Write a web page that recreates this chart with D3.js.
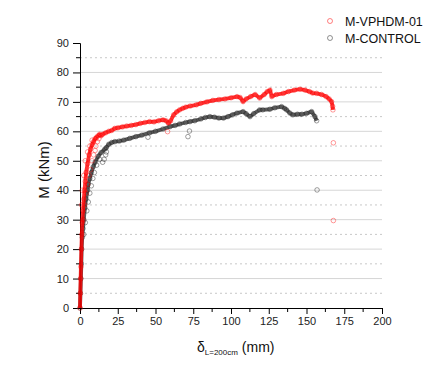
<!DOCTYPE html>
<html>
<head>
<meta charset="utf-8">
<script src="https://cdn.jsdelivr.net/npm/d3@7"></script>
<style>
  body { margin: 0; background: #fff; }
  text { font-family: Arial, "Liberation Sans", sans-serif; }
</style>
</head>
<body>
<div class="chart"></div>
<script>
// M-VPHDM-01 (red), main envelope
const redX = [0,0.2,0.4,0.6,0.9,1.2,1.5,2,2.5,3,3.5,4,5,6,7,8,9,10,11,12,13,14,15,17,19,21,23,25,28,31,34,37,40,43,46,49,52,55,57,58.5,60,62,64,66,68,70,73,77,80,84,88,92,96,100,104,106,108,110,113,116,119,122,124,125.8,127,130,134.7,138,142,145.7,149,152,154,156.7,160,163,165,166.6,167.3,167.5];
const redY = [0,5,10,14,20,25,29,33,37,40,43,46,49,52,54,55.5,56.5,57.5,58,58.5,59,58.5,59,59.5,60,60.3,61,61.2,61.5,61.8,62,62.3,62.7,63,63.3,63.2,63.6,63.9,63.6,62.8,63.5,65.6,66.6,67.3,67.8,68.2,68.6,69,69.5,70,70.5,70.8,71,71.4,71.8,71.5,70.1,71,71.8,72.5,71.3,72.5,73.5,74,71.8,72.5,72.9,73.5,74,74.3,74,73.5,73,72.9,72.5,71.8,71,70.1,68.5,67.3];
// scattered red markers (reloading cycles and last readings)
const redExtraX = [1,1.5,2.5,3.5,5,6.5,8,2,3,4,5,6,7,8,9,10,10.5,11.5,12.5,58,167.8,167.8];
const redExtraY = [35,40,45,50,53,55,57,30,35,39,42,45,47,50,52,53.5,55,56.5,57.5,59.9,56.1,29.7];

// M-CONTROL (black)
const blackX = [0,0.3,0.6,0.9,1.1,1.5,2,2.5,3.3,4,5,5.5,6.5,7.5,8.8,10,12,14,16.5,17.5,19,21,23,26,29,33,37,41,46,50,55,59.6,63,66,70,72.8,76,80,83,86,89,92,95,98,101,104,108,110,112.6,115,119,121,125.8,129,133.5,135.5,136.8,139,141,144,147,150,153.4,155.6,156.7];
const blackY = [0,5,10,15,20,24,27,30,34,37,40,42,44,46,48,49.5,51.5,52.8,54,54.5,55.6,56.2,56.5,56.7,57,57.6,58.2,58.7,59.5,60,60.8,61.6,62,62.5,63,63.3,63.6,64.2,64.7,65,64.8,64.5,64.5,65,65.6,66.2,66.7,66,65,66,67.3,67.3,67.5,68,68.4,67.8,67.3,66.2,65.6,65.8,65.8,66.1,66.7,65,63.6];
const blackExtraX = [2.5,3.5,4.5,5.5,6.5,7.5,8.5,9.5,11,13,15,16,17,17.5,45,71.5,72.5,157];
const blackExtraY = [25,29,33,36,39,41.5,44,46,48.5,50.5,49.5,50.5,52,53,58,58.2,60.1,40.1];

const seriesNames = ['M-VPHDM-01', 'M-CONTROL'];
const seriesColors = ['#ff0000', '#222222'];

const xTicks = [0,25,50,75,100,125,150,175,200];
const yTicks = [0,10,20,30,40,50,60,70,80,90];

const W = 444, H = 370;
const margin = {top:43, left:80, right:62, bottom:62};
const width = W - margin.left - margin.right;
const height = H - margin.top - margin.bottom;

const svg = d3.select('.chart')
    .append('svg')
    .attr('width', W)
    .attr('height', H)
const g = svg.append('g')
    .attr('transform', 'translate('+margin.left+','+margin.top+')');

const xScale = d3.scaleLinear().domain([0,200]).range([0,width]);
const yScale = d3.scaleLinear().domain([0,90]).range([height,0]);

// grid: solid at tens, dashed at fives
const gridVals = d3.range(5, 90, 5);
g.selectAll('.grid')
    .data(gridVals)
    .enter()
    .append('line')
    .attr('x1', 0)
    .attr('x2', width)
    .attr('y1', d=>yScale(d))
    .attr('y2', d=>yScale(d))
    .attr('stroke', d=> d%10===0 ? '#d6d6d6' : '#c8c8c8')
    .attr('stroke-width', 1)
    .attr('stroke-dasharray', d=> d%10===0 ? null : '2,3');

// axes
const xAxis = d3.axisBottom(xScale).tickValues(xTicks).tickSize(6).tickPadding(3);
const xa = g.append('g')
    .attr('transform', `translate(0, ${height})`)
    .call(xAxis);
g.append('g')
    .attr('transform', `translate(0, ${height})`)
    .selectAll('line')
    .data(d3.range(12.5, 200, 25))
    .enter()
    .append('line')
    .attr('x1', d=>xScale(d)).attr('x2', d=>xScale(d))
    .attr('y1', 0).attr('y2', 4)
    .attr('stroke', '#000');

const yAxis = d3.axisLeft(yScale).tickValues(yTicks).tickSize(7).tickPadding(4);
const ya = g.append('g').call(yAxis);
g.append('g')
    .selectAll('line')
    .data(d3.range(5, 90, 10))
    .enter()
    .append('line')
    .attr('x1', -4).attr('x2', 0)
    .attr('y1', d=>yScale(d)).attr('y2', d=>yScale(d))
    .attr('stroke', '#000');

[xa, ya].forEach(a=>{
    a.select('.domain').attr('stroke', '#000');
    a.selectAll('text').attr('font-size', 11).attr('fill', '#222')
        .style('font-family', 'Arial, "Liberation Sans", sans-serif');
});

// data
const line = d3.line().x(d=>xScale(d[0])).y(d=>yScale(d[1]));
function drawSeries(xs, ys, exX, exY, color, lineOp, circOp) {
    const pts = xs.map((x,i)=>[x, ys[i]]);
    const extra = exX.map((x,i)=>[x, exY[i]]);
    g.append('path')
        .datum(pts)
        .attr('d', line)
        .attr('fill', 'none')
        .attr('stroke', color)
        .attr('stroke-width', 3.8)
        .attr('stroke-opacity', lineOp)
        .attr('stroke-linejoin', 'round');
    g.selectAll(null)
        .data(pts.concat(extra))
        .enter()
        .append('circle')
        .attr('cx', d=>xScale(d[0]))
        .attr('cy', d=>yScale(d[1]))
        .attr('r', 2.3)
        .attr('fill', 'none')
        .attr('stroke', color)
        .attr('stroke-width', 0.8)
        .attr('stroke-opacity', circOp);
}
drawSeries(blackX, blackY, blackExtraX, blackExtraY, seriesColors[1], 0.75, 0.55);
drawSeries(redX, redY, redExtraX, redExtraY, seriesColors[0], 0.8, 0.5);

// axis labels
svg.append('text')
    .attr('transform', 'translate(49,170) rotate(-90)')
    .attr('text-anchor', 'middle')
    .attr('font-size', 15)
    .attr('fill', '#111')
    .text('M (kNm)');

const xl = svg.append('text')
    .attr('x', 197)
    .attr('y', 352)
    .attr('font-size', 14)
    .attr('fill', '#111');
xl.append('tspan').text('δ');
xl.append('tspan').attr('font-size', 8).attr('dy', 3).text('L=200cm');
xl.append('tspan').attr('dy', -3).text(' (mm)');

// legend
const legend = svg.selectAll('.legend')
    .data(seriesNames)
    .enter()
    .append('g')
    .attr('transform', (d,i)=>'translate(330,'+(21+i*17)+')');
legend.append('circle')
    .attr('r', 2.5)
    .attr('fill', 'none')
    .attr('stroke', (d,i)=>seriesColors[i])
    .attr('stroke-opacity', 0.55)
    .attr('stroke-width', 0.9);
legend.append('text')
    .attr('x', 15)
    .attr('y', 5)
    .attr('font-size', 12.5)
    .attr('fill', '#111')
    .text(d=>d);
</script>
</body>
</html>
